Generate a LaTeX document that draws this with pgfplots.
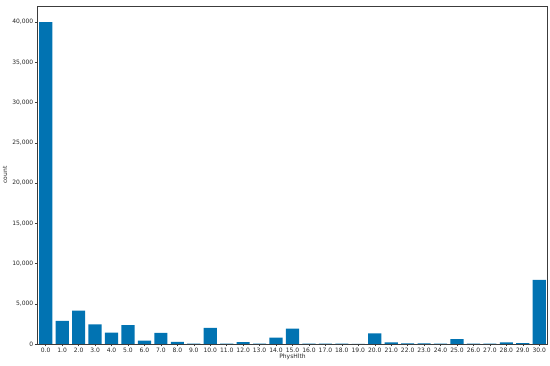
\documentclass[border=0pt]{standalone}
\usepackage{pgfplots}
\pgfplotsset{compat=1.18}
\usepackage{fontspec}
\setmainfont{DejaVu Sans}
\definecolor{barblue}{RGB}{1,115,178}
\definecolor{spine}{RGB}{60,60,60}

\begin{document}
\begin{tikzpicture}
\path[use as bounding box] (-37.5pt,-22pt) rectangle (512.5pt,344pt);
\begin{axis}[
    scale only axis,
    width=510pt, height=338pt,
    xmin=-0.5, xmax=30.5,
    ymin=0, ymax=42000,
    xtick={0,1,...,30},
    xticklabels={0.0,1.0,2.0,3.0,4.0,5.0,6.0,7.0,8.0,9.0,10.0,11.0,12.0,13.0,14.0,15.0,16.0,17.0,18.0,19.0,20.0,21.0,22.0,23.0,24.0,25.0,26.0,27.0,28.0,29.0,30.0},
    ytick={0,5000,...,40000},
    scaled y ticks=false,
    /pgf/number format/1000 sep={,},
    /pgf/number format/assume math mode=true,
    tick align=outside, tick pos=left,
    major tick length=2.5pt,
    every tick/.style={spine, line width=0.5pt},
    axis line style={spine, line width=0.6pt},
    tick label style={font=\fontsize{6}{7}\selectfont, text=black!85},
    label style={font=\fontsize{6}{7}\selectfont, text=black!85},
    xticklabel style={inner sep=1pt},
    yticklabel style={inner sep=1.5pt},
    xlabel={PhysHlth}, ylabel={count},
    xlabel style={inner sep=0pt, yshift=-1pt},
    ylabel style={yshift=0pt},
    ybar, bar width=0.8,
]
\addplot[fill=barblue, draw=none] coordinates {
(0,40000) (1,2870) (2,4150) (3,2450) (4,1410) (5,2340) (6,420) (7,1370)
(8,250) (9,60) (10,2000) (11,50) (12,220) (13,50) (14,800) (15,1910)
(16,50) (17,40) (18,40) (19,10) (20,1330) (21,210) (22,70) (23,70)
(24,60) (25,590) (26,40) (27,40) (28,200) (29,120) (30,7970)
};
\end{axis}
\end{tikzpicture}
\end{document}
